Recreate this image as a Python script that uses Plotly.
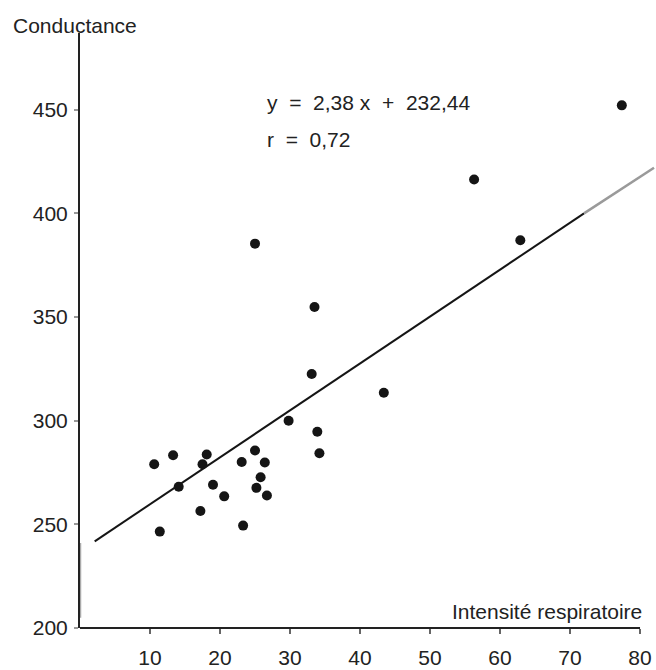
import plotly.graph_objects as go

# ---- data ----
resp_x = [10.6, 13.3, 18.1, 17.5, 14.1, 11.4, 17.2, 19.0, 20.6, 23.3, 23.1, 25.0,
          26.4, 25.8, 25.2, 26.7, 29.8, 33.9, 34.2, 77.4, 56.3, 25.0, 62.9,
          33.5, 33.1, 43.4]
cond_y = [279.0, 283.3, 283.7, 279.0, 268.1, 246.5, 256.4, 269.1, 263.5, 249.4, 280.1, 285.6,
          279.8, 272.7, 267.6, 263.9, 300.0, 294.7, 284.3, 452.1, 416.3, 385.4, 387.0,
          354.8, 322.5, 313.5]

# regression line as drawn (dark part, then faded end)
line_dark_x = [2.1, 72.0]
line_dark_y = [241.8, 400.0]
line_fade_x = [72.0, 82.0]
line_fade_y = [400.0, 422.0]

# faded stretch of the printed y axis
axis_fade_y = [205.0, 241.0]

x_ticks = [10, 20, 30, 40, 50, 60, 70, 80]
y_ticks = [200, 250, 300, 350, 400, 450]

equation_text = "y\u00a0 =\u00a0 2,38\u00a0x\u00a0 +\u00a0 232,44"
r_text = "r\u00a0 =\u00a0 0,72"
x_title = "Intensité respiratoire"
y_title = "Conductance"

FONT = "Liberation Sans, Arial, sans-serif"
TXT = "#222222"

fig = go.Figure()
fig.add_trace(go.Scatter(x=line_dark_x, y=line_dark_y, mode="lines",
                         line=dict(color="#151515", width=2), hoverinfo="skip"))
fig.add_trace(go.Scatter(x=line_fade_x, y=line_fade_y, mode="lines",
                         line=dict(color="#9a9a9a", width=2.5), hoverinfo="skip"))
fig.add_trace(go.Scatter(x=resp_x, y=cond_y, mode="markers",
                         marker=dict(color="#151515", size=10, line=dict(width=0))))

fig.update_layout(
    width=656, height=670,
    margin=dict(l=80, r=1, t=33, b=40),
    paper_bgcolor="white", plot_bgcolor="white",
    showlegend=False,
    font=dict(family=FONT, size=21, color=TXT),
)
fig.update_xaxes(range=[0, 82.14], tickvals=x_ticks, ticktext=[str(v) for v in x_ticks],
                 ticks="outside", ticklen=5, tickwidth=2, tickcolor="#666",
                 showline=False, showgrid=False, zeroline=False,
                 ticklabelstandoff=6, tickfont=dict(size=21, color=TXT, family=FONT))
fig.update_yaxes(range=[200, 487.0], tickvals=y_ticks, ticktext=[str(v) for v in y_ticks],
                 ticks="outside", ticklen=4, tickwidth=2, tickcolor="#999",
                 showline=True, linecolor="#222", linewidth=2,
                 showgrid=False, zeroline=False,
                 ticklabelstandoff=2, tickfont=dict(size=21, color=TXT, family=FONT))

# x axis line only up to the last tick
fig.add_shape(type="line", xref="x", yref="paper", x0=0, x1=x_ticks[-1], y0=0, y1=0,
              line=dict(color="#222", width=2))
# faded part of the y axis
fig.add_shape(type="line", xref="x", yref="y", x0=0, x1=0,
              y0=axis_fade_y[0], y1=axis_fade_y[1],
              line=dict(color="#aaaaaa", width=2.5))

fig.add_annotation(text=equation_text, xref="x", yref="y", x=26.4, y=453.4,
                   xanchor="left", yanchor="middle", showarrow=False,
                   font=dict(size=21, color=TXT, family=FONT))
fig.add_annotation(text=r_text, xref="x", yref="y", x=26.4, y=435.6,
                   xanchor="left", yanchor="middle", showarrow=False,
                   font=dict(size=21, color=TXT, family=FONT))
fig.add_annotation(text=y_title, xref="paper", yref="paper", x=-0.12, y=1.013,
                   xanchor="left", yanchor="middle", showarrow=False,
                   font=dict(size=21, color=TXT, family=FONT))
fig.add_annotation(text=x_title, xref="paper", yref="paper", x=0.981, y=0.0285,
                   xanchor="right", yanchor="middle", showarrow=False,
                   font=dict(size=21, color=TXT, family=FONT))

fig.write_html("out.html")
